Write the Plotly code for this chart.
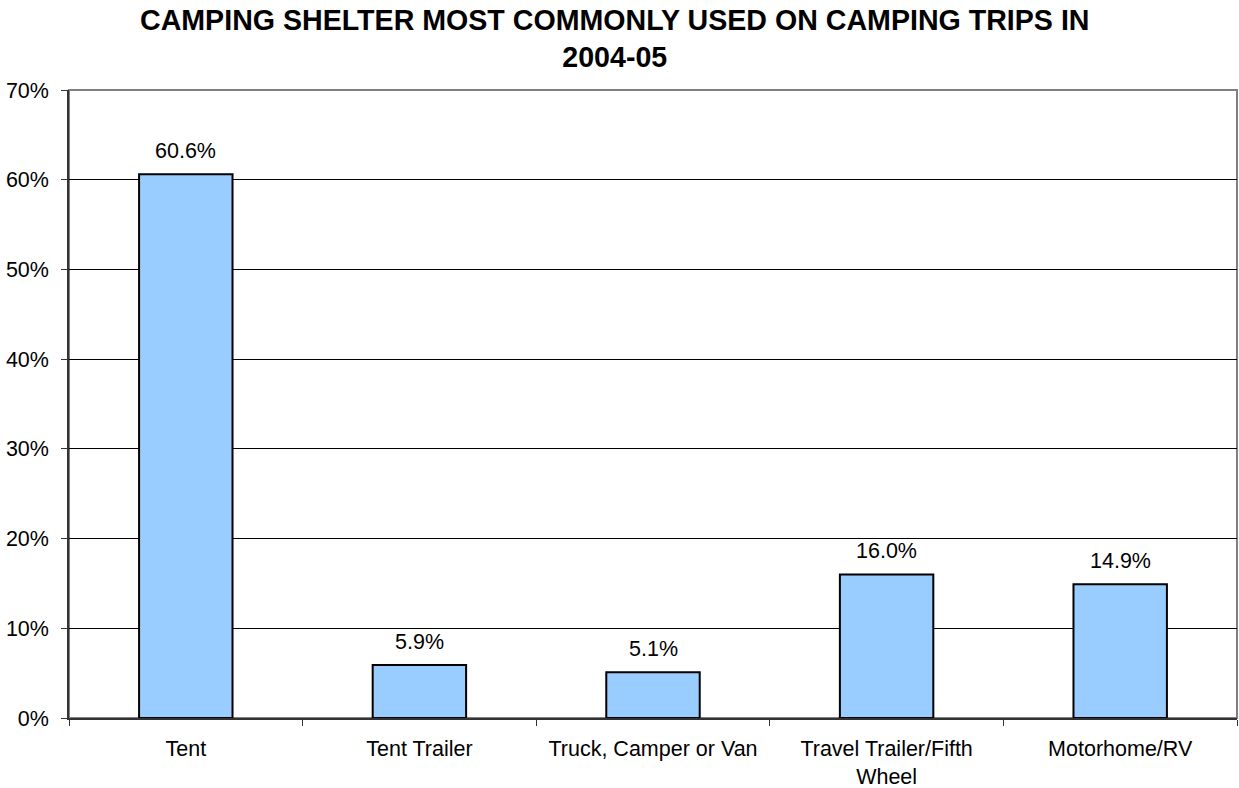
import plotly.graph_objects as go

categories = ["Tent", "Tent Trailer", "Truck, Camper or Van", "Travel Trailer/Fifth<br>Wheel", "Motorhome/RV"]
values = [0.606, 0.059, 0.051, 0.160, 0.149]
value_labels = ["60.6%", "5.9%", "5.1%", "16.0%", "14.9%"]
y_ticks = [0, 0.1, 0.2, 0.3, 0.4, 0.5, 0.6, 0.7]
y_tick_labels = ["0%", "10%", "20%", "30%", "40%", "50%", "60%", "70%"]
title_lines = ["CAMPING SHELTER MOST COMMONLY USED ON CAMPING TRIPS IN", "2004-05"]

FONT = "Liberation Sans, Arial, sans-serif"
FS = 21.5

fig = go.Figure()
fig.add_trace(go.Bar(
    x=categories, y=values, width=0.4,
    marker=dict(color="#99CCFF", line=dict(color="#000000", width=2)),
    hoverinfo="skip",
))

for c, v, t in zip(categories, values, value_labels):
    fig.add_annotation(x=c, y=v, text=t, showarrow=False, yanchor="middle", yshift=23,
                       font=dict(family=FONT, size=FS, color="#000000"))

fig.add_annotation(xref="paper", yref="paper", x=(614 - 69) / 1168, y=1, yanchor="bottom", yshift=15,
                   text="<b>" + "<br>".join(title_lines) + "</b>", showarrow=False,
                   font=dict(family=FONT, size=28.6, color="#000000"), align="center")

fig.add_shape(type="rect", xref="paper", yref="paper", x0=0, y0=0, x1=1, y1=1,
              line=dict(color="#808080", width=2), layer="below")

fig.update_layout(
    width=1239, height=788,
    margin=dict(l=69, r=2, t=90, b=70),
    paper_bgcolor="#FFFFFF", plot_bgcolor="#FFFFFF",
    showlegend=False,
    font=dict(family=FONT, size=FS, color="#000000"),
    bargap=0.6,
)
fig.update_xaxes(
    type="category", tickson="boundaries", ticks="outside", ticklen=6, tickcolor="#333333",
    showline=True, linecolor="#333333", linewidth=1.5, showgrid=False, automargin=False,
    tickfont=dict(family=FONT, size=FS, color="#000000"), ticklabelstandoff=10,
)
fig.update_yaxes(
    range=[0, 0.7], tickvals=y_ticks, ticktext=y_tick_labels, ticks="outside", ticklen=6,
    tickcolor="#333333", showline=True, linecolor="#333333", linewidth=1.5, automargin=False,
    showgrid=True, gridcolor="#000000", gridwidth=1, zeroline=False,
    tickfont=dict(family=FONT, size=FS, color="#000000"), ticklabelstandoff=8,
)

fig.write_html("out.html", config={"displayModeBar": False},
               post_script="document.body.style.margin='0';document.body.style.overflow='hidden';")
